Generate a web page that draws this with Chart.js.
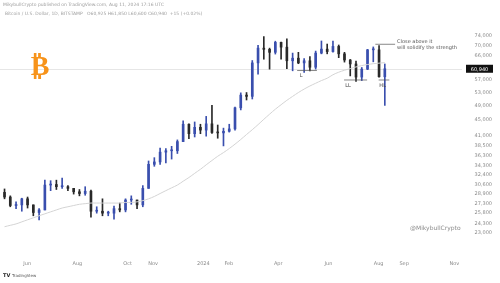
<!DOCTYPE html>
<html>
<head>
<meta charset="utf-8">
<script src="https://cdn.jsdelivr.net/npm/chart.js@4.4.1/dist/chart.umd.min.js"></script>
<style>
  html, body { margin: 0; padding: 0; background: #ffffff; }
  #wrap { width: 500px; height: 283px; position: relative; }
</style>
</head>
<body>
<div id="wrap"><canvas id="chart"></canvas></div>
<script>
// weekly bars, BTC/USD
const weekDates = [
  '2023-05-01','2023-05-08','2023-05-15','2023-05-22','2023-05-29','2023-06-05','2023-06-12','2023-06-19','2023-06-26',
  '2023-07-03','2023-07-10','2023-07-17','2023-07-24','2023-07-31','2023-08-07','2023-08-14','2023-08-21','2023-08-28',
  '2023-09-04','2023-09-11','2023-09-18','2023-09-25','2023-10-02','2023-10-09','2023-10-16','2023-10-23','2023-10-30',
  '2023-11-06','2023-11-13','2023-11-20','2023-11-27','2023-12-04','2023-12-11','2023-12-18','2023-12-25',
  '2024-01-01','2024-01-08','2024-01-15','2024-01-22','2024-01-29','2024-02-05','2024-02-12','2024-02-19','2024-02-26',
  '2024-03-04','2024-03-11','2024-03-18','2024-03-25','2024-04-01','2024-04-08','2024-04-15','2024-04-22','2024-04-29',
  '2024-05-06','2024-05-13','2024-05-20','2024-05-27','2024-06-03','2024-06-10','2024-06-17','2024-06-24',
  '2024-07-01','2024-07-08','2024-07-15','2024-07-22','2024-07-29','2024-08-05'
];
const openPrices = [
  29200,28400,27000,27100,28100,27100,25900,26300,30500,30600,30200,30200,29900,29300,29000,29400,26100,26100,
  25800,25800,26500,26300,27900,27900,27100,29900,34500,35000,37100,37400,37400,39500,43800,41400,43000,
  42300,43900,41700,41600,42000,42600,48300,52100,51700,63100,68900,68400,67200,71300,69300,63900,64900,63100,
  63900,61500,66900,68500,67500,69600,66600,64200,62700,58000,60800,68200,68200,58100
];
const highPrices = [
  29800,28600,27600,28200,28400,27100,26500,31400,31300,31400,31800,30400,29900,29700,30200,29600,26800,28100,
  26100,26900,27400,28100,28600,27900,30400,35200,35900,38000,37900,38400,39900,44700,43900,44400,43800,
  45900,49000,43600,42800,43800,48500,52800,52900,64000,70100,73800,68900,71800,71400,72800,66900,67200,64700,
  65500,67700,71900,70600,71900,70200,67200,64400,63800,61400,68400,69400,70000,62700
];
const lowPrices = [
  28100,26800,26500,26100,26600,25400,24800,26300,29500,29700,29900,29500,28900,28600,28700,25200,25800,25400,
  25400,24900,26000,26000,27200,26500,26800,29900,34100,34500,34800,35600,36800,39500,40200,40600,41400,
  40800,41500,40300,38500,41800,42300,47700,50600,50900,59000,64500,60800,66500,64500,61000,60200,62800,59600,
  60200,60800,66600,66600,67300,65100,63400,58400,56500,56800,60600,63500,58000,49000
];
const closePrices = [
  28400,27000,27100,28100,27100,25900,26300,30500,30600,30200,30200,29900,29300,29000,29400,26100,26100,25800,
  25800,26500,26300,27900,27900,27100,29900,34500,35000,37100,37400,37400,39500,43800,41400,43000,42300,
  43900,41700,41600,42000,42600,48300,52100,51700,63100,68900,68400,67200,71300,69300,63900,64900,63100,63900,
  61500,66900,68500,67500,69600,66600,64200,62700,58000,60800,68200,68200,58100,60940
];
// long moving average (grey curve)
const maValues = [
  23800,24000,24200,24500,24800,25100,25400,25700,26000,26300,26600,26800,27000,27200,27300,27400,27400,27400,
  27400,27400,27400,27500,27500,27600,27800,28100,28500,29000,29500,30000,30500,31200,31900,32700,33500,
  34400,35300,36200,37000,37900,38900,40000,41200,42400,43700,45100,46500,47900,49200,50500,51700,52900,54000,
  55000,55900,56800,57600,58800,59700,60400,61000,61600,62100,62500,62800,63000,63200
];

// axis labels
const monthTickDates = ['2023-06-01','2023-08-01','2023-10-01','2023-11-01','2024-01-01','2024-02-01','2024-04-01','2024-06-01','2024-08-01','2024-09-01','2024-11-01'];
const monthTickLabels = ['Jun','Aug','Oct','Nov','2024','Feb','Apr','Jun','Aug','Sep','Nov'];
const priceTicks = [74000,70000,66000,57000,53000,49000,45000,41000,38500,36300,34300,32400,30600,28900,27300,25800,24300,23000];

// drawn levels / notes
const lastPrice = 60940;
const levelStart = ['2024-04-24','2024-06-20','2024-08-01'];
const levelEnd = ['2024-05-18','2024-07-18','2024-08-14'];
const levelValue = [60300, 57000, 57000];
const levelLabel = ['L','LL','HL'];
const noteStart = '2024-07-28';
const noteEnd = '2024-08-21';
const noteValue = 70500;
const noteText = ['Close above it', 'will solidify the strength'];

const DAY0 = Date.UTC(2023, 4, 1);
function dayOf(s) {
  const p = s.split('-');
  return (Date.UTC(+p[0], +p[1] - 1, +p[2]) - DAY0) / 86400000;
}

const UP = '#3a4fae';
const DOWN = '#2a2a2a';

const wickData = weekDates.map((d, i) => ({ x: dayOf(d) + 3.5, y: [lowPrices[i], highPrices[i]] }));
const bodyData = weekDates.map((d, i) => ({ x: dayOf(d) + 3.5, y: [openPrices[i], closePrices[i]] }));
const barColors = closePrices.map((c, i) => c >= openPrices[i] ? UP : DOWN);
const maData = weekDates.map((d, i) => ({ x: dayOf(d) + 3.5, y: maValues[i] }));

const overlay = {
  id: 'overlay',
  beforeDatasetsDraw(chart) {
    const { ctx, scales: { y }, chartArea } = chart;
    // current price line
    const py = Math.round(y.getPixelForValue(lastPrice)) + 0.5;
    ctx.save();
    ctx.strokeStyle = '#e6e6e6';
    ctx.lineWidth = 1;
    ctx.beginPath();
    ctx.moveTo(chartArea.left, py);
    ctx.lineTo(462, py);
    ctx.stroke();
    ctx.restore();
  },
  afterDatasetsDraw(chart) {
    const { ctx, scales: { x, y } } = chart;
    ctx.save();
    // support levels with labels
    ctx.strokeStyle = '#555';
    ctx.lineWidth = 0.7;
    ctx.fillStyle = '#444';
    ctx.font = '5px "DejaVu Sans"';
    ctx.textAlign = 'center';
    ctx.textBaseline = 'top';
    levelValue.forEach((v, i) => {
      const ly = y.getPixelForValue(v);
      const x1 = x.getPixelForValue(dayOf(levelStart[i]));
      const x2 = x.getPixelForValue(dayOf(levelEnd[i]));
      ctx.beginPath();
      ctx.moveTo(x1, ly);
      ctx.lineTo(x2, ly);
      ctx.stroke();
      ctx.fillText(levelLabel[i], x1 + 4, ly + 3);
    });
    // resistance note
    const ny = y.getPixelForValue(noteValue);
    const nx1 = x.getPixelForValue(dayOf(noteStart));
    const nx2 = x.getPixelForValue(dayOf(noteEnd));
    ctx.beginPath();
    ctx.moveTo(nx1, ny);
    ctx.lineTo(nx2, ny);
    ctx.stroke();
    ctx.textAlign = 'left';
    ctx.textBaseline = 'middle';
    ctx.fillStyle = '#555';
    ctx.fillText(noteText[0], nx2 + 2, ny - 3);
    ctx.fillText(noteText[1], nx2 + 2, ny + 3);

    // price box on the scale
    const py = y.getPixelForValue(lastPrice);
    ctx.fillStyle = '#111';
    ctx.fillRect(466, py - 4, 27, 8);
    ctx.fillStyle = '#fff';
    ctx.textAlign = 'center';
    ctx.font = '5px "DejaVu Sans"';
    ctx.fillText(lastPrice.toLocaleString('en-US'), 479.5, py + 0.5);
    ctx.restore();
  },
  afterDraw(chart) {
    const { ctx } = chart;
    ctx.save();
    // header
    ctx.fillStyle = '#a0a0a0';
    ctx.font = '4.5px "DejaVu Sans"';
    ctx.textBaseline = 'middle';
    ctx.textAlign = 'left';
    ctx.fillText('MikybullCrypto published on TradingView.com, Aug 11, 2024 17:16 UTC', 3, 5);
    ctx.fillText('Bitcoin / U.S. Dollar, 1D, BITSTAMP   O60,925 H61,850 L60,600 C60,940  +15 (+0.02%)', 5, 14);
    // bitcoin logo
    ctx.fillStyle = '#f7931a';
    ctx.font = 'bold 28px "DejaVu Sans"';
    ctx.textAlign = 'center';
    ctx.fillText('\u20BF', 40, 68);
    // watermark
    ctx.fillStyle = '#8c8c8c';
    ctx.font = '6px "DejaVu Sans"';
    ctx.textAlign = 'left';
    ctx.fillText('@MikybullCrypto', 410, 228);
    // footer logo
    ctx.fillStyle = '#222';
    ctx.font = 'bold 5px "DejaVu Sans"';
    ctx.fillText('TV', 3, 276);
    ctx.font = '4px "DejaVu Sans"';
    ctx.fillStyle = '#555';
    ctx.fillText('TradingView', 12, 276);
    ctx.restore();
  }
};

new Chart(document.getElementById('chart'), {
  data: {
    datasets: [
      {
        type: 'line',
        data: maData,
        borderColor: '#d4d4d4',
        borderWidth: 1,
        pointRadius: 0,
        tension: 0.4
      },
      {
        type: 'bar',
        data: wickData,
        backgroundColor: barColors,
        barThickness: 1,
        grouped: false,
        minBarLength: 1
      },
      {
        type: 'bar',
        data: bodyData,
        backgroundColor: barColors,
        barThickness: 2,
        grouped: false,
        minBarLength: 1
      }
    ]
  },
  options: {
    responsive: true,
    maintainAspectRatio: false,
    animation: false,
    layout: { padding: { top: 25, bottom: 13, left: 0, right: 0 } },
    plugins: { legend: { display: false }, tooltip: { enabled: false } },
    scales: {
      x: {
        type: 'linear',
        min: -2,
        max: 586,
        offset: false,
        grid: { display: false },
        border: { display: false },
        afterBuildTicks: axis => { axis.ticks = monthTickDates.map(d => ({ value: dayOf(d) })); },
        ticks: {
          autoSkip: false,
          maxRotation: 0,
          padding: 3,
          color: '#8a8a8a',
          font: { family: 'DejaVu Sans', size: 5 },
          callback: (v, i) => monthTickLabels[i]
        }
      },
      y: {
        type: 'logarithmic',
        position: 'right',
        min: 20720,
        max: 79070,
        grid: { display: false, drawTicks: false },
        border: { display: false },
        afterBuildTicks: axis => { axis.ticks = priceTicks.map(v => ({ value: v })); },
        ticks: {
          mirror: true,
          padding: 8,
          autoSkip: false,
          color: '#8a8a8a',
          font: { family: 'DejaVu Sans', size: 5 },
          callback: v => Number(v).toLocaleString('en-US')
        }
      }
    }
  },
  plugins: [overlay]
});
</script>
</body>
</html>
